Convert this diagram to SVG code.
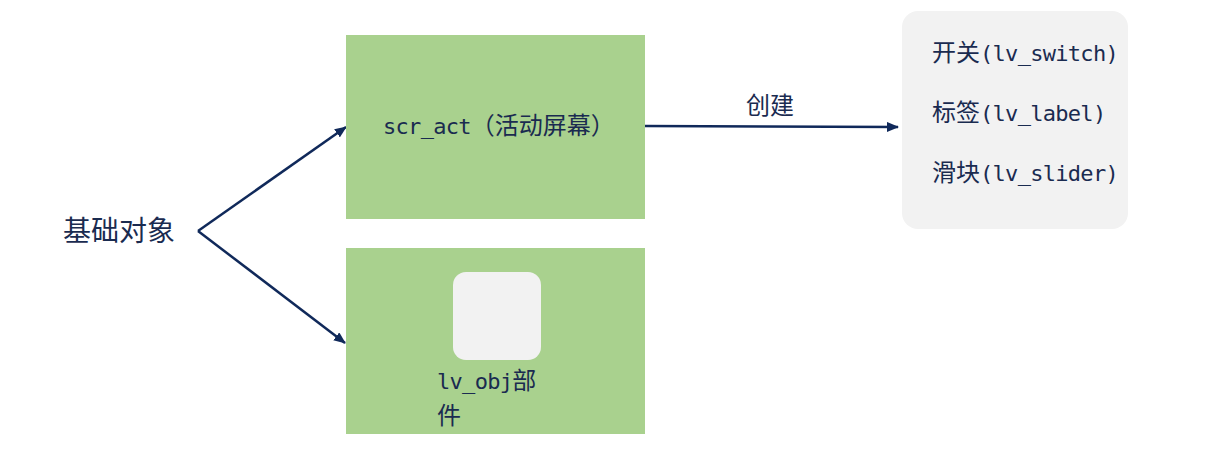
<svg xmlns="http://www.w3.org/2000/svg" width="1205" height="452" viewBox="0 0 1205 452">
<style>
.green{fill:#A9D18E}
.gray{fill:#F2F2F2}
.t{fill:#1A2B50;font-family:"Noto Sans CJK SC","Noto Sans",sans-serif;font-size:24px}
.m{font-family:"DejaVu Sans Mono","Liberation Mono",monospace;font-size:22px;letter-spacing:-0.7px}
.conn{stroke:#10295A;stroke-width:2.5;fill:none}
</style>
<defs>
<marker id="ah" viewBox="0 0 12 10" refX="11" refY="5" markerWidth="12" markerHeight="10" markerUnits="userSpaceOnUse" orient="auto">
<path d="M0,0 L12,5 L0,10 z" fill="#10295A"/>
</marker>
</defs>
<rect width="1205" height="452" fill="#FFFFFF"/>
<g id="connectors">
<path class="conn" d="M198,231 L346,127" marker-end="url(#ah)"/>
<path class="conn" d="M198,231 L345,343" marker-end="url(#ah)"/>
<path class="conn" d="M645,126 L898,127" marker-end="url(#ah)"/>
<text class="t" x="746" y="114">创建</text>
</g>
<g id="base">
<text class="t" x="63" y="241" style="font-size:28px">基础对象</text>
</g>
<g id="scr_act">
<rect class="green" x="346" y="35" width="299" height="184"/>
<text class="t" x="383" y="134"><tspan class="m">scr_act</tspan>（活动屏幕）</text>
</g>
<g id="lv_obj">
<rect class="green" x="346" y="248" width="299" height="186"/>
<rect class="gray" x="453" y="272" width="88" height="88" rx="13"/>
<text class="t" x="437" y="389"><tspan class="m">lv_obj</tspan>部</text>
<text class="t" x="437" y="424">件</text>
</g>
<g id="widgets">
<rect class="gray" x="902" y="11" width="226" height="218" rx="16"/>
<text class="t" x="932" y="61">开关<tspan class="m">(lv_switch)</tspan></text>
<text class="t" x="932" y="121">标签<tspan class="m">(lv_label)</tspan></text>
<text class="t" x="932" y="181">滑块<tspan class="m">(lv_slider)</tspan></text>
</g>
</svg>
